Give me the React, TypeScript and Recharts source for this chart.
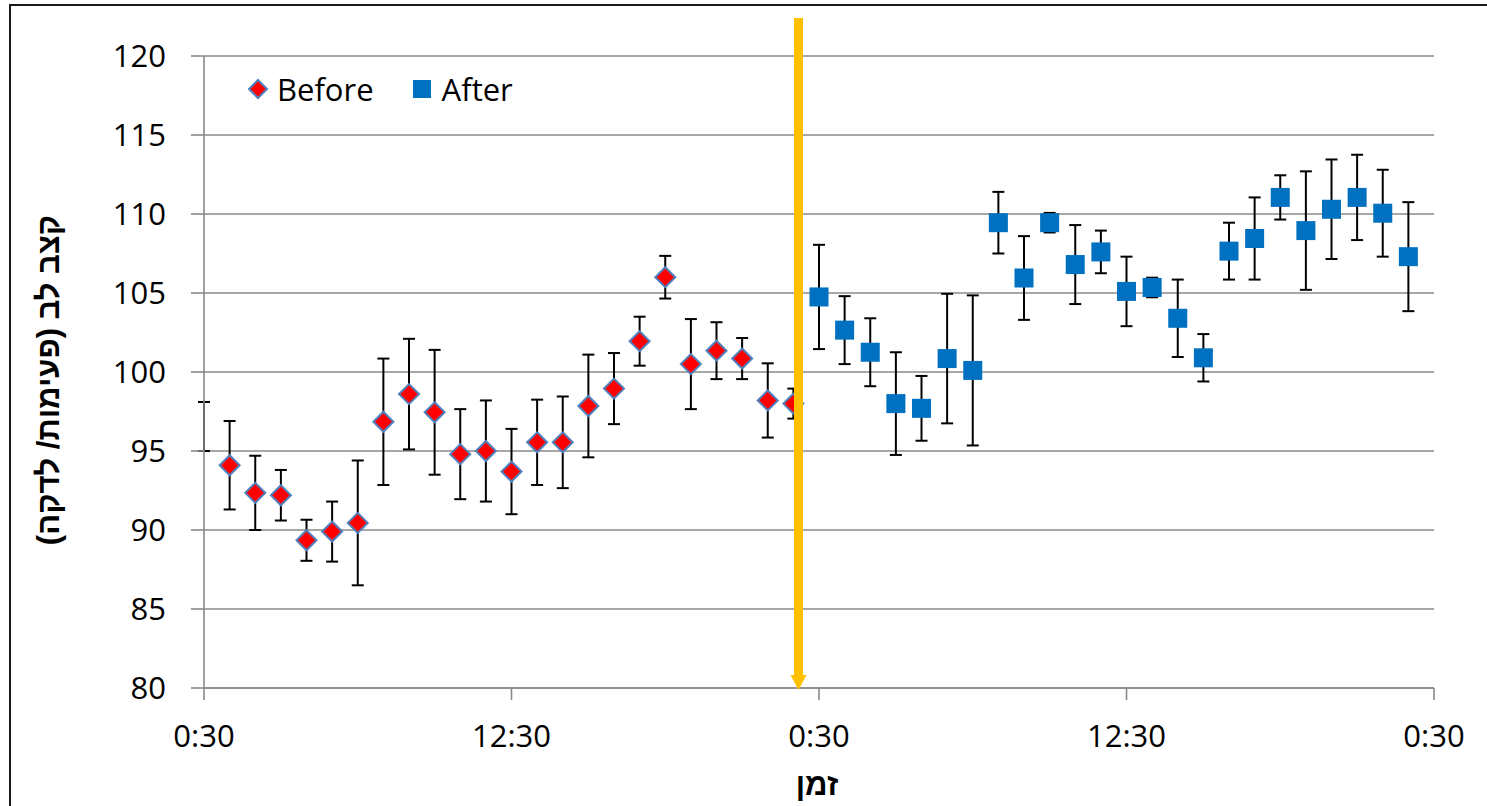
import React from 'react';
import {
  ScatterChart,
  Scatter,
  XAxis,
  YAxis,
  CartesianGrid,
  ErrorBar,
  ReferenceLine,
} from 'recharts';

// ---------- data ----------
const beforeHours = [0, 1, 2, 3, 4, 5, 6, 7, 8, 9, 10, 11, 12, 13, 14, 15, 16, 17, 18, 19, 20, 21, 22, 23];
const beforeMean = [96.55, 94.1, 92.35, 92.2, 89.35, 89.9, 90.45, 96.85, 98.6, 97.45, 94.8, 95.0, 93.7, 95.55, 95.55, 97.85, 98.95, 101.95, 106.0, 100.5, 101.35, 100.85, 98.2, 98.0];
const beforeErr = [1.55, 2.8, 2.35, 1.6, 1.3, 1.9, 3.95, 4.0, 3.5, 3.95, 2.85, 3.2, 2.7, 2.7, 2.9, 3.25, 2.25, 1.55, 1.35, 2.85, 1.8, 1.3, 2.35, 0.95];
const hiddenMarkerHours = [0];

const afterHours = [24, 25, 26, 27, 28, 29, 30, 31, 32, 33, 34, 35, 36, 37, 38, 39, 40, 41, 42, 43, 44, 45, 46, 47];
const afterMean = [104.75, 102.65, 101.25, 98.0, 97.7, 100.85, 100.1, 109.45, 105.95, 109.45, 106.8, 107.6, 105.1, 105.35, 103.4, 100.9, 107.65, 108.45, 111.05, 108.95, 110.3, 111.05, 110.05, 107.3];
const afterErr = [3.3, 2.15, 2.15, 3.25, 2.05, 4.1, 4.75, 1.95, 2.65, 0.62, 2.5, 1.35, 2.2, 0.62, 2.45, 1.5, 1.8, 2.6, 1.4, 3.75, 3.15, 2.7, 2.75, 3.45];

const xTicks = [0, 12, 24, 36, 48];
const xTickLabels = ['0:30', '12:30', '0:30', '12:30', '0:30'];
const yTicks = [80, 85, 90, 95, 100, 105, 110, 115, 120];

const markerLineHour = 23.2;
const markerLineTop = 122.4;

const seriesNames = ['Before', 'After'];
const yAxisTitle = 'קצב לב (פעימות/ לדקה)';
const xAxisTitle = 'זמן';

const beforeData = beforeHours.map((h, i) => ({
  h,
  v: beforeMean[i],
  err: beforeErr[i],
  showMarker: !hiddenMarkerHours.includes(h),
}));
const afterData = afterHours.map((h, i) => ({ h, v: afterMean[i], err: afterErr[i] }));

// ---------- styles ----------
const FONT = '"Open Sans", "Liberation Sans", "DejaVu Sans", sans-serif';
const HEB_FONT = '"Liberation Sans", "DejaVu Sans", "Open Sans", sans-serif';
const RED = '#FF0000';
const DIAMOND_STROKE = '#4F81BD';
const BLUE = '#0070C0';
const GRID = '#8A8A8A';
const ORANGE = '#FFC000';

const DiamondShape = (props: any) => {
  const { cx, cy, payload } = props;
  if (payload && payload.showMarker === false) return <g />;
  const r = 10;
  return (
    <polygon
      points={`${cx},${cy - r} ${cx + r},${cy} ${cx},${cy + r} ${cx - r},${cy}`}
      fill={RED}
      stroke={DIAMOND_STROKE}
      strokeWidth={2}
    />
  );
};

const SquareShape = (props: any) => {
  const { cx, cy } = props;
  const s = 19;
  return <rect x={cx - s / 2} y={cy - s / 2} width={s} height={s} fill={BLUE} />;
};

const ArrowLine = (props: any) => {
  const { x1, y1, x2, y2 } = props;
  const bottom = Math.max(y1, y2);
  const top = Math.min(y1, y2);
  const x = x1;
  const head = 13;
  const half = 8;
  return (
    <g>
      <line x1={x} y1={top} x2={x2} y2={bottom - head + 1} stroke={ORANGE} strokeWidth={9} />
      <polygon points={`${x - half},${bottom - head} ${x + half},${bottom - head} ${x},${bottom + 2}`} fill={ORANGE} />
    </g>
  );
};

const LegendBox = () => (
  <div
    style={{
      position: 'absolute',
      left: 246,
      top: 69,
      display: 'flex',
      alignItems: 'center',
      fontFamily: FONT,
      fontSize: 31,
      lineHeight: '40px',
      color: '#000',
    }}
  >
    <svg width={24} height={24} style={{ marginRight: 7 }}>
      <polygon points="12,3 21,12 12,21 3,12" fill={RED} stroke={DIAMOND_STROKE} strokeWidth={2} />
    </svg>
    <span style={{ marginRight: 38 }}>{seriesNames[0]}</span>
    <svg width={20} height={20} style={{ marginRight: 10 }}>
      <rect x={1} y={1} width={18} height={18} fill={BLUE} />
    </svg>
    <span>{seriesNames[1]}</span>
  </div>
);

const YTitle = (props: any) => {
  const vb = props.viewBox || {};
  const cx = vb.x + 48;
  const cy = vb.y + vb.height / 2 + 8;
  return (
    <text
      x={cx}
      y={cy}
      transform={`rotate(-90, ${cx}, ${cy})`}
      textAnchor="middle"
      dominantBaseline="central"
      direction="rtl"
      fontFamily={HEB_FONT}
      fontWeight="bold"
      fontSize={31}
      fill="#000"
    >
      {yAxisTitle}
    </text>
  );
};

const XTitle = (props: any) => {
  const vb = props.viewBox || {};
  const cx = vb.x + vb.width / 2 - 2;
  const cy = vb.y + 107;
  return (
    <text
      x={cx}
      y={cy}
      textAnchor="middle"
      direction="rtl"
      fontFamily={HEB_FONT}
      fontWeight="bold"
      fontSize={31}
      fill="#000"
    >
      {xAxisTitle}
    </text>
  );
};

export default function App() {
  return (
    <div style={{ position: 'absolute', left: 0, top: 0, width: 1487, height: 806, overflow: 'hidden', background: '#fff' }}>
      <div
        style={{
          position: 'absolute',
          left: 9,
          top: 4,
          width: 1500,
          height: 830,
          border: '2px solid #1a1a1a',
          boxSizing: 'border-box',
        }}
      />
      <div style={{ position: 'absolute', left: 0, top: 0 }}>
        <ScatterChart width={1487} height={806} margin={{ top: 56, right: 53, left: 0, bottom: 0 }}>
          <CartesianGrid vertical={false} stroke={GRID} strokeWidth={1.6} />
          <XAxis
            type="number"
            dataKey="h"
            domain={[0, 48]}
            ticks={xTicks}
            tickFormatter={(v: number) => xTickLabels[xTicks.indexOf(v)] ?? ''}
            height={118}
            tickSize={12}
            tickMargin={25}
            axisLine={{ stroke: GRID, strokeWidth: 1.6 }}
            tickLine={{ stroke: GRID, strokeWidth: 1.6 }}
            tick={{ fontSize: 31, fill: '#000', fontFamily: FONT }}
            label={<XTitle />}
            allowDecimals={false}
          />
          <YAxis
            type="number"
            dataKey="v"
            domain={[80, 120]}
            ticks={yTicks}
            width={204}
            tickSize={13}
            tickMargin={25}
            axisLine={{ stroke: GRID, strokeWidth: 1.6 }}
            tickLine={{ stroke: GRID, strokeWidth: 1.6 }}
            tick={{ fontSize: 31, fill: '#000', fontFamily: FONT }}
            label={<YTitle />}
          />
          <Scatter name={seriesNames[0]} data={beforeData} fill={RED} shape={<DiamondShape />} isAnimationActive={false}>
            <ErrorBar dataKey="err" direction="y" width={6} stroke="#000" strokeWidth={2} />
          </Scatter>
          <Scatter name={seriesNames[1]} data={afterData} fill={BLUE} shape={<SquareShape />} isAnimationActive={false}>
            <ErrorBar dataKey="err" direction="y" width={6} stroke="#000" strokeWidth={2} />
          </Scatter>
          <ReferenceLine
            segment={[
              { x: markerLineHour, y: 80 },
              { x: markerLineHour, y: markerLineTop },
            ]}
            ifOverflow="visible"
            shape={ArrowLine}
            zIndex={2000}
          />
        </ScatterChart>
      </div>
      <LegendBox />
    </div>
  );
}
